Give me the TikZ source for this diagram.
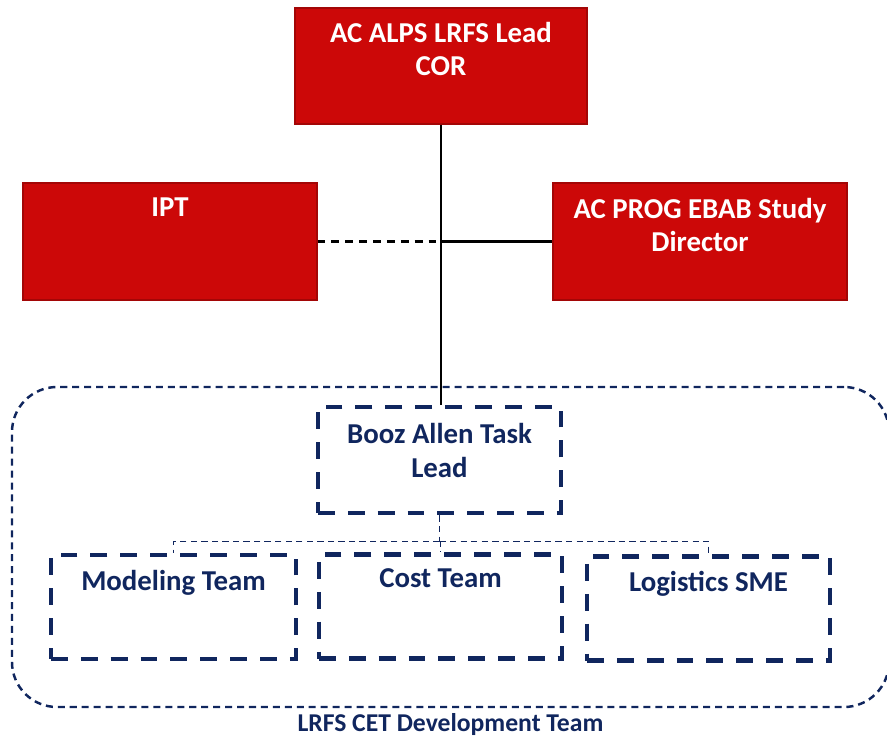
\documentclass[tikz,border=0pt]{standalone}
\usepackage{fontspec}
\setmainfont{Carlito}
\usetikzlibrary{positioning}
\definecolor{boxred}{HTML}{CC0808}
\definecolor{navy}{HTML}{10265E}

\begin{document}
\begin{tikzpicture}[
  redbox/.style={draw=boxred!80!black, fill=boxred, line width=0.6pt,
                 minimum width=5.88cm, minimum height=2.34cm},
  teambox/.style={draw=navy, line width=2.8pt, dash pattern=on 9.6pt off 7.4pt,
                  minimum width=4.86cm, minimum height=2.08cm},
  txt/.style={font=\fontsize{16.4}{19.3}\selectfont\bfseries, align=center, inner sep=0pt},
  link/.style={line width=1.5pt},
  tree/.style={draw=navy, line width=1.1pt, dash pattern=on 3.6pt off 2.4pt}
]
  \useasboundingbox (0,0) rectangle (17.74,-14.8);
  % Government side
  \node[redbox, minimum width=5.84cm, minimum height=2.32cm] (cor) at (8.82,-1.32) {};
  \node[redbox] (ipt) at (3.40,-4.83) {};
  \node[redbox] (dir) at (14.00,-4.83) {};
  \node[txt, text=white, below=0.28cm of cor.north] (cortxt) {AC ALPS LRFS Lead\\COR};
  \node[txt, text=white, below=0.3cm of ipt.north]  (ipttxt) {IPT};
  \node[txt, text=white, below=0.3cm of dir.north]  (dirtxt) {AC PROG EBAB Study\\Director};
  % Contractor team
  \node[draw=navy, line width=1.4pt, dash pattern=on 4pt off 2.8pt, rounded corners=0.9cm,
        minimum width=17.54cm, minimum height=6.4cm] (cet) at (9.01,-10.94) {};
  \node[teambox, minimum height=2.12cm] (booz)  at (8.79,-9.20) {};
  \node[teambox, minimum width=4.9cm]   (model) at (3.47,-12.14) {};
  \node[teambox] (cost) at (8.81,-12.13) {};
  \node[teambox] (logi) at (14.17,-12.17) {};
  \node[txt, text=navy, below=0.36cm of booz.north]  (booztxt)  {Booz Allen Task\\Lead};
  \node[txt, text=navy, below=0.34cm of model.north] (modeltxt) {Modeling Team};
  \node[txt, text=navy, below=0.32cm of cost.north]  (costtxt)  {Cost Team};
  \node[txt, text=navy, below=0.34cm of logi.north]  (logitxt)  {Logistics SME};
  \node[txt, text=navy, font=\fontsize{14.6}{17}\selectfont\bfseries, below=0.1cm of cet.south] (cettxt)
    {LRFS CET Development Team};
  % Reporting lines
  \coordinate (junc) at (cor.south |- dir.west);
  \draw[link] (cor.south) -- (cor.south |- booz.north);
  \draw[link] (junc) -- (dir.west);
  \draw[link, dash pattern=on 4.5pt off 3.4pt] (ipt.east) -- (junc);
  \coordinate[below=0.52cm of booz.south] (split);
  \draw[tree] (booz.south) -- (split);
  \draw[tree] (split) -| (model.north);
  \draw[tree] (split) -| (cost.north);
  \draw[tree] (split) -| (logi.north);
\end{tikzpicture}
\end{document}
